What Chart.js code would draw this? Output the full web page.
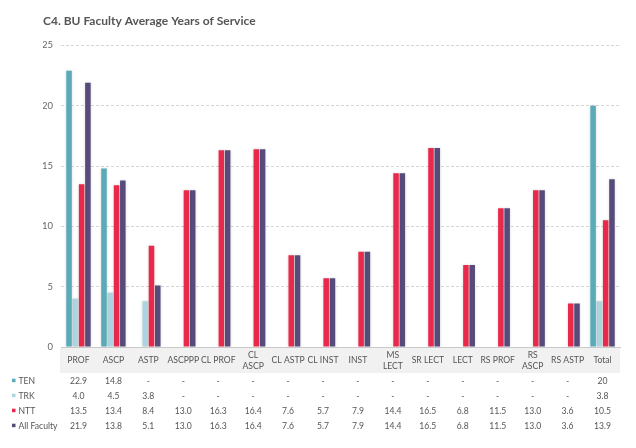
<!DOCTYPE html>
<html>
<head>
<meta charset="utf-8">
<script src="https://cdn.jsdelivr.net/npm/chart.js@4.4.0/dist/chart.umd.min.js"></script>
<style>
  html, body { margin: 0; padding: 0; background: #fff; }
  #wrap { width: 636px; height: 448px; }
</style>
</head>
<body>
<div id="wrap"><canvas id="chart"></canvas></div>
<script>
// values as printed in the table under the chart ('-' = no bar)
const categories = ['PROF', 'ASCP', 'ASTP', 'ASCPPP', 'CL PROF', ['CL', 'ASCP'], 'CL ASTP', 'CL INST',
  'INST', ['MS', 'LECT'], 'SR LECT', 'LECT', 'RS PROF', ['RS', 'ASCP'], 'RS ASTP', 'Total'];
const ten = ['22.9', '14.8', '-', '-', '-', '-', '-', '-', '-', '-', '-', '-', '-', '-', '-', '20'];
const trk = ['4.0', '4.5', '3.8', '-', '-', '-', '-', '-', '-', '-', '-', '-', '-', '-', '-', '3.8'];
const ntt = ['13.5', '13.4', '8.4', '13.0', '16.3', '16.4', '7.6', '5.7', '7.9', '14.4', '16.5', '6.8', '11.5', '13.0', '3.6', '10.5'];
const allFaculty = ['21.9', '13.8', '5.1', '13.0', '16.3', '16.4', '7.6', '5.7', '7.9', '14.4', '16.5', '6.8', '11.5', '13.0', '3.6', '13.9'];
const seriesNames = ['TEN', 'TRK', 'NTT', 'All Faculty'];
const yMax = 25;
const yStep = 5;

const colors = ['#5aaab8', '#acd5e0', '#e8294b', '#574b7b'];
const rows = [ten, trk, ntt, allFaculty];

const toNum = arr => arr.map(v => (v === '-' ? null : Number(v)));

// gray band with the category names, the value rows and a soft bar shadow
const tablePlugin = {
  id: 'table',
  beforeDraw(chart) {
    const { ctx, chartArea } = chart;
    ctx.save();
    ctx.fillStyle = '#f1f1f1';
    ctx.fillRect(chartArea.left - 1, chartArea.bottom + 1, chartArea.right - chartArea.left + 1, 25);
    ctx.restore();
  },
  beforeDatasetsDraw(chart) {
    const ctx = chart.ctx;
    ctx.save();
    ctx.shadowColor = 'rgba(0,0,0,0.16)';
    ctx.shadowBlur = 3;
  },
  afterDatasetsDraw(chart) {
    chart.ctx.restore();
  },
  afterDraw(chart) {
    const { ctx, chartArea } = chart;
    const x = chart.scales.x;
    const bandMid = chartArea.bottom + 13.5;
    const lineH = 10.5;
    ctx.save();
    ctx.font = '8.6px Lato';
    ctx.textBaseline = 'middle';
    ctx.textAlign = 'center';
    ctx.fillStyle = '#555';
    categories.forEach((c, i) => {
      const lines = Array.isArray(c) ? c : [c];
      const y0 = bandMid - (lines.length - 1) * lineH / 2;
      lines.forEach((t, k) => ctx.fillText(t, x.getPixelForValue(i), y0 + k * lineH));
    });

    const top = chartArea.bottom + 34.7;
    const rowH = 15;
    rows.forEach((row, r) => {
      const y = top + r * rowH;
      ctx.fillStyle = colors[r];
      ctx.fillRect(12, y - 3, 3.5, 3.5);
      ctx.fillStyle = '#555';
      ctx.textAlign = 'left';
      ctx.fillText(seriesNames[r], 18.5, y);
      ctx.textAlign = 'center';
      row.forEach((v, i) => {
        ctx.fillText(v, x.getPixelForValue(i), y);
      });
    });
    ctx.restore();
  }
};

new Chart(document.getElementById('chart'), {
  type: 'bar',
  data: {
    labels: categories,
    datasets: rows.map((row, i) => ({
      label: seriesNames[i],
      data: toNum(row),
      backgroundColor: colors[i],
      categoryPercentage: 0.72,
      barPercentage: 0.88
    }))
  },
  options: {
    responsive: true,
    maintainAspectRatio: false,
    animation: false,
    layout: { padding: { left: 43, right: 16, top: 14, bottom: 101 } },
    plugins: {
      legend: { display: false },
      tooltip: { enabled: false },
      title: {
        display: true,
        text: 'C4. BU Faculty Average Years of Service',
        align: 'start',
        color: '#555',
        font: { family: 'Lato', size: 12, weight: 'bold' },
        padding: { top: 0, bottom: 17 }
      }
    },
    scales: {
      x: {
        grid: { display: false, drawTicks: false },
        border: { display: true, color: '#c8c8c8' },
        ticks: { display: false }
      },
      y: {
        min: 0,
        max: yMax,
        grid: { color: '#d6d6d6', drawTicks: false },
        border: { display: false, dash: [3, 2] },
        ticks: {
          stepSize: yStep,
          color: '#666',
          font: { family: 'Lato', size: 9.5 },
          padding: 8
        },
        afterFit(scale) { scale.width = 18; }
      }
    }
  },
  plugins: [tablePlugin]
});
</script>
</body>
</html>
